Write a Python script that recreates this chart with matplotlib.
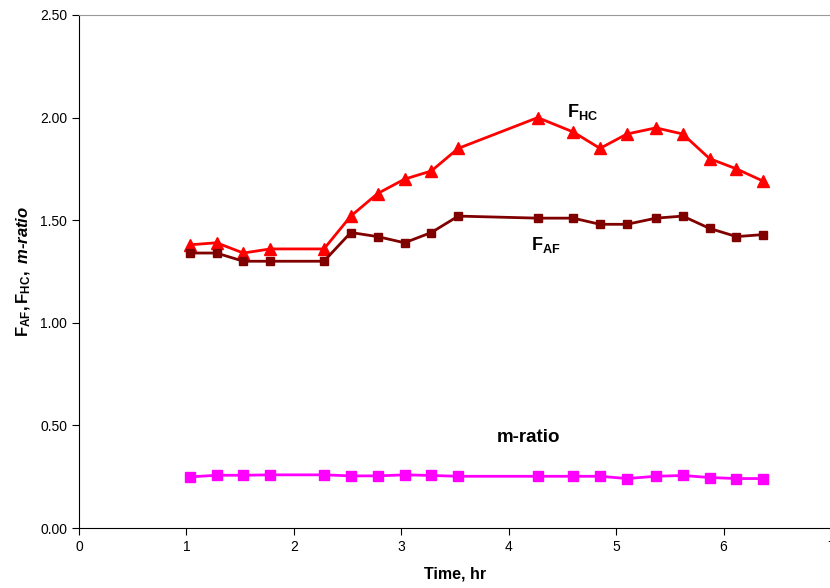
import matplotlib
matplotlib.use("Agg")
import matplotlib.pyplot as plt

plt.rcParams['font.family'] = ['Liberation Sans', 'DejaVu Sans']
plt.rcParams['mathtext.fontset'] = 'custom'
plt.rcParams['mathtext.rm'] = 'Liberation Sans'
plt.rcParams['mathtext.bf'] = 'Liberation Sans:bold'
plt.rcParams['mathtext.it'] = 'Liberation Sans:italic'
plt.rcParams['mathtext.bfit'] = 'Liberation Sans:bold:italic'

# время отбора, ч
time_hr = [1.03, 1.28, 1.53, 1.78, 2.28, 2.53, 2.78, 3.03, 3.28, 3.53,
           4.27, 4.60, 4.85, 5.10, 5.37, 5.62, 5.87, 6.12, 6.37]
f_hc = [1.38, 1.39, 1.34, 1.36, 1.36, 1.52, 1.63, 1.70, 1.74, 1.85,
        2.00, 1.93, 1.85, 1.92, 1.95, 1.92, 1.80, 1.75, 1.69]
f_af = [1.34, 1.34, 1.30, 1.30, 1.30, 1.44, 1.42, 1.39, 1.44, 1.52,
        1.51, 1.51, 1.48, 1.48, 1.51, 1.52, 1.46, 1.42, 1.43]
m_ratio = [0.249, 0.257, 0.257, 0.259, 0.259, 0.254, 0.254, 0.259, 0.256, 0.252,
           0.252, 0.252, 0.252, 0.241, 0.252, 0.256, 0.246, 0.241, 0.241]

x_ticks = [0, 1, 2, 3, 4, 5, 6, 7]
y_ticks = [0.0, 0.5, 1.0, 1.5, 2.0, 2.5]

fig = plt.figure(figsize=(8.3, 5.88), dpi=100)
ax = fig.add_axes([79/830, 60/588, (831-79)/830, (528-15)/588])

ax.plot(time_hr, f_hc, color='#FF0000', lw=2, marker='^', ms=8, zorder=3)
ax.plot(time_hr, f_af, color='#800000', lw=2, marker='s', ms=5.5, zorder=3)
ax.plot(time_hr, m_ratio, color='#FF00FF', lw=2, marker='s', ms=7.5, zorder=3)

ax.text(4.54, 2.025, r'$\mathbf{F_{HC}}$', fontsize=13, ha='left', va='center')
ax.text(4.21, 1.38, r'$\mathbf{F_{AF}}$', fontsize=13, ha='left', va='center')
ax.text(4.18, 0.44, 'm-ratio', fontsize=13.5, fontweight='bold', ha='center', va='center')

ax.set_xlim(0, 7)
ax.set_ylim(0, 2.5)
ax.set_xticks(x_ticks)
ax.set_yticks(y_ticks)
ax.set_yticklabels(['%.2f' % v for v in y_ticks])
ax.tick_params(direction='out', length=5, labelsize=10)

ax.set_xlabel('Time, hr', fontsize=11.5, fontweight='bold', labelpad=9)
ylab = r'$\mathbf{F_{AF}, F_{HC},}\ \mathbfit{m' + '\u2010' + r'ratio}$'
ax.set_ylabel(ylab, fontsize=12, labelpad=5)

ax.spines['top'].set_color('#999999')
ax.spines['right'].set_color('#999999')

fig.savefig('out.png', dpi=100)
